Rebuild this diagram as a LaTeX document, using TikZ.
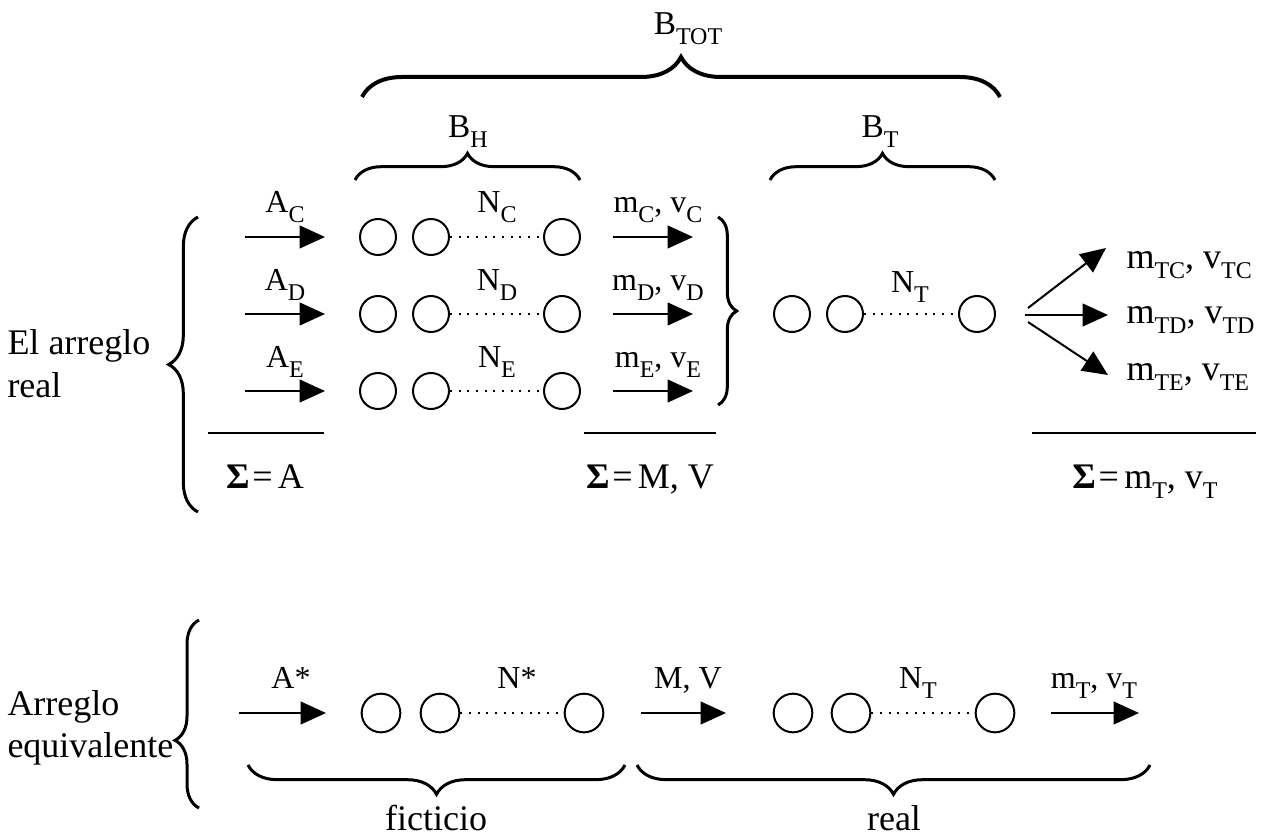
\documentclass[tikz,border=0pt]{standalone}
\usepackage{fontspec}
\setmainfont{Liberation Serif}
\usetikzlibrary{arrows.meta,decorations.pathreplacing}

\tikzset{every picture/.style={line width=0.75pt}}
\tikzset{
  txt/.style={inner sep=0.75pt,font=\fontsize{27}{32}\selectfont},
  lab/.style={inner sep=0.75pt,font=\fontsize{24}{28}\selectfont},
  bead/.style={circle,draw,line width=1.5pt,minimum size=27pt,inner sep=0pt},
  bigbead/.style={bead,minimum size=29pt},
  flow/.style={line width=1.5pt,-{Triangle[length=19pt,width=17pt]}},
  chain/.style={line width=1.5pt,dash pattern=on 1.5pt off 5pt},
  curly/.style={decorate,decoration={brace,amplitude=#1},line width=2.25pt},
  sumline/.style={line width=1.5pt}
}
\newcommand{\low}[1]{\raisebox{-7.5pt}{\fontsize{18}{18}\selectfont #1}}
\newcommand{\sumsign}{\textbf{Σ}\hspace{2pt}=\hspace{4pt}}

\begin{document}
\begin{tikzpicture}[x=0.75pt,y=0.75pt,yscale=-1,xscale=1]
\useasboundingbox (0,0) rectangle (1264,838);

%Braces on top
\draw[curly=30pt,line width=3pt] (362,97) -- (1000,97);
\draw[curly=20pt] (355,180) -- (580,180);
\draw[curly=20pt] (770,180) -- (995,180);
% Text Node
\node[lab,font=\fontsize{25}{28}\selectfont,anchor=base] (btot) at (688,35) {B\low{TOT}};
\node[lab,font=\fontsize{25}{28}\selectfont,anchor=base] (bh) at (468,138) {B\low{H}};
\node[lab,font=\fontsize{25}{28}\selectfont,anchor=base] (bt) at (880,138) {B\low{T}};

%Three rows of the real arrangement
\foreach \r/\y in {C/237,D/314,E/391}{
  \coordinate (in\r) at (245,\y);
  \coordinate (tip\r) at (325,\y);
  \node[bead] (p\r1) at (378,\y) {};
  \node[bead] (p\r2) at (431,\y) {};
  \node[bead] (p\r3) at (562,\y) {};
  \coordinate (out\r) at (613,\y);
  \coordinate (end\r) at (693,\y);
  \draw[flow] (in\r) -- (tip\r);
  \draw[chain] (p\r2) -- (p\r3);
  \draw[flow] (out\r) -- (end\r);
  \node[lab,anchor=base] (la\r) at (285,\y-24) {A\low{\r}};
  \node[lab,anchor=base] (ln\r) at (497,\y-24) {N\low{\r}};
  \node[lab,anchor=base] (lm\r) at (658,\y-24) {m\low{\r}, v\low{\r}};
}
\draw[curly=22pt] (198,512) -- (198,217);
\draw[curly=14pt] (718,217) -- (718,405);
% Text Node
\node[txt,anchor=west,align=left] (real) at (6,364) {El arreglo\\real};

%Series T
\node[bead] (t1) at (792,314) {};
\node[bead] (t2) at (845,314) {};
\node[bead] (t3) at (977,314) {};
\draw[chain] (t2) -- (t3);
\node[lab,anchor=base] (lnt) at (910,292) {N\low{T}};
\coordinate (fanC) at (1028,308);
\coordinate (fanD) at (1025,315);
\coordinate (fanE) at (1028,322);
\coordinate (tipTC) at (1106,248);
\coordinate (tipTD) at (1108,315);
\coordinate (tipTE) at (1108,375);
\draw[flow] (fanC) -- (tipTC);
\draw[flow] (fanD) -- (tipTD);
\draw[flow] (fanE) -- (tipTE);
\node[txt,anchor=base west] (ltc) at (1125,268) {m\low{TC}, v\low{TC}};
\node[txt,anchor=base west] (ltd) at (1125,323) {m\low{TD}, v\low{TD}};
\node[txt,anchor=base west] (lte) at (1125,380) {m\low{TE}, v\low{TE}};

%Sums
\draw[sumline] (208,433) -- (324,433);
\draw[sumline] (584,433) -- (716,433);
\draw[sumline] (1032,433) -- (1256,433);
\node[txt,anchor=base] (sa) at (265,488) {\sumsign A};
\node[txt,anchor=base] (sm) at (650,488) {\sumsign M, V};
\node[txt,anchor=base] (st) at (1145,488) {\sumsign m\low{T}, v\low{T}};

%Equivalent arrangement
\coordinate (inS) at (239,713);
\coordinate (tipS) at (326,713);
\node[bigbead] (s1) at (381,713) {};
\node[bigbead] (s2) at (440,713) {};
\node[bigbead] (s3) at (584,713) {};
\draw[flow] (inS) -- (tipS);
\draw[chain] (s2) -- (s3);
\coordinate (inM) at (641,713);
\coordinate (tipM) at (726,713);
\draw[flow] (inM) -- (tipM);
\node[bigbead] (r1) at (793,713) {};
\node[bigbead] (r2) at (851,713) {};
\node[bigbead] (r3) at (995,713) {};
\draw[chain] (r2) -- (r3);
\coordinate (inT) at (1051,713);
\coordinate (tipT) at (1139,713);
\draw[flow] (inT) -- (tipT);
% Text Node
\node[lab,anchor=base] (las) at (291,688) {A*};
\node[lab,anchor=base] (lns) at (517,688) {N*};
\node[lab,anchor=base] (lmv) at (688,688) {M, V};
\node[lab,anchor=base] (lnr) at (918,688) {N\low{T}};
\node[lab,anchor=base] (lmt) at (1094,688) {m\low{T}, v\low{T}};
\draw[curly=22pt] (625,765) -- (248,765);
\draw[curly=22pt] (1150,765) -- (637,765);
\node[txt,anchor=base] (fic) at (436,830) {ficticio};
\node[txt,anchor=base] (rea) at (894,830) {real};
\draw[decorate,decoration={brace,amplitude=18pt,aspect=0.36},line width=2.25pt] (199,808) -- (199,620);
\node[txt,anchor=west,align=left] (equ) at (6,728) {Arreglo\\equivalente};

\end{tikzpicture}
\end{document}
